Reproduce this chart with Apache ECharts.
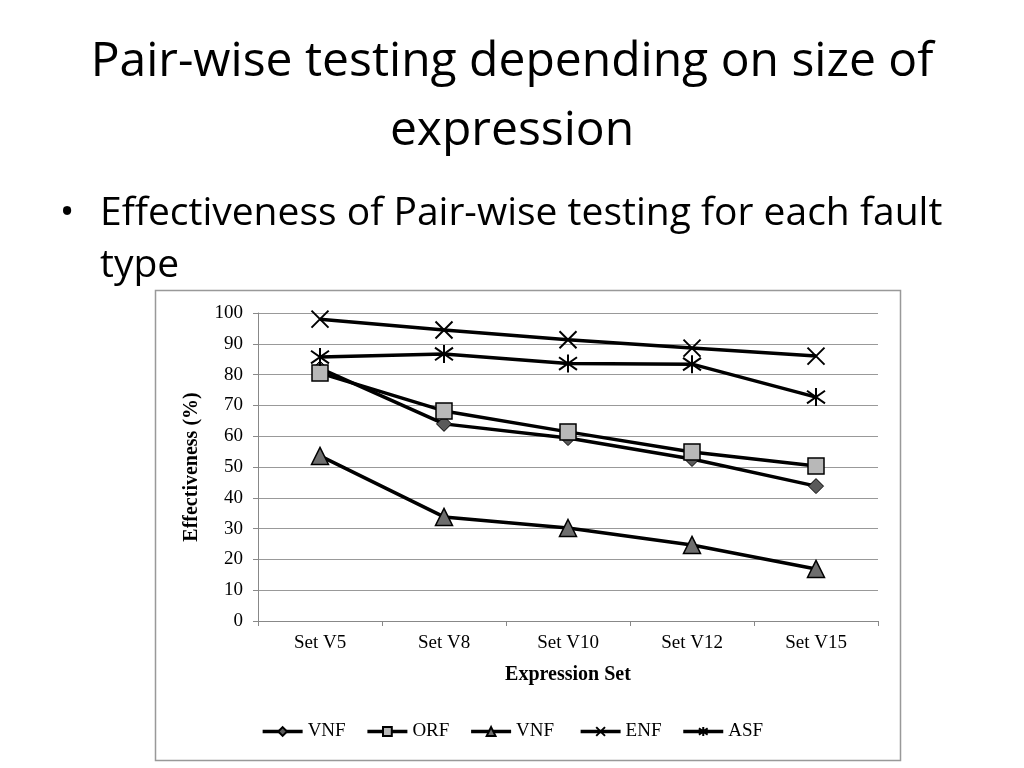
<!DOCTYPE html>
<html><head><meta charset="utf-8">
<script src="https://cdn.jsdelivr.net/npm/echarts@6/dist/echarts.min.js"></script>
<style>html,body{margin:0;padding:0;background:#fff}#c{width:1024px;height:768px}</style>
</head><body><div id="c"></div>
<script>
const categories = ['Set V5','Set V8','Set V10','Set V12','Set V15'];
const yTicks = [0,10,20,30,40,50,60,70,80,90,100];
const seriesNames = ['VNF','ORF','VNF ','ENF','ASF'];
const vnfDiamond = [82, 64, 59.4, 52.6, 43.8];
const orf = [80.5, 68.2, 61.4, 54.9, 50.3];
const vnfTriangle = [53.6, 33.8, 30.2, 24.7, 16.9];
const enf = [98, 94.5, 91.3, 88.6, 86];
const asf = [85.7, 86.7, 83.6, 83.4, 72.7];

const chart = echarts.init(document.getElementById('c'));
const serif = 'Liberation Serif';
const xPath = 'path://M0,0L10,10M10,0L0,10';
const starPath = 'path://M5,0L5,10M0.7,1.5L9.3,8.5M9.3,1.5L0.7,8.5';
function mk(name, data, symbol, size, fill, bw){
  return {name, type:'line', data, symbol, symbolSize:size,
    lineStyle:{color:'#000', width:3.5},
    itemStyle:{color:fill, borderColor:'#000', borderWidth:bw},
    emphasis:{disabled:true}, animation:false};
}
const titleFont = '48px "Open Sans"';
const bulletFont = '39px "Open Sans"';
chart.setOption({
  animation:false,
  graphic:[
    {type:'text', x:512, y:62, style:{text:'Pair-wise testing depending on size of', font:titleFont, fill:'#000', align:'center', verticalAlign:'middle'}},
    {type:'text', x:512, y:131, style:{text:'expression', font:titleFont, fill:'#000', align:'center', verticalAlign:'middle'}},
    {type:'text', x:67, y:214, style:{text:'•', font:bulletFont, fill:'#000', align:'center', verticalAlign:'middle'}},
    {type:'text', x:100, y:214, style:{text:'Effectiveness of Pair-wise testing for each fault', font:bulletFont, fill:'#000', verticalAlign:'middle'}},
    {type:'text', x:100, y:266, style:{text:'type', font:bulletFont, fill:'#000', verticalAlign:'middle'}},
    {type:'rect', shape:{x:155.5, y:290.5, width:745, height:470}, style:{fill:'none', stroke:'#999', lineWidth:1.5}, z:-1}
  ],
  grid:{left:258, right:146, top:313, bottom:147},
  legend:{
    data:seriesNames, top:717, left:'center', itemWidth:40, itemHeight:11, itemGap:20,
    textStyle:{fontFamily:serif, fontSize:19, color:'#000'},
    lineStyle:{width:3.5, color:'#000'},
    selectedMode:false
  },
  xAxis:{type:'category', data:categories, boundaryGap:true,
    name:'Expression Set', nameLocation:'middle', nameGap:44,
    nameTextStyle:{fontFamily:serif, fontSize:20, fontWeight:'bold', color:'#000'},
    axisLine:{lineStyle:{color:'#888', width:1}},
    axisTick:{show:true, length:5, lineStyle:{color:'#888'}},
    axisLabel:{fontFamily:serif, fontSize:19, color:'#000', margin:13}
  },
  yAxis:{type:'value', min:0, max:100, interval:10,
    name:'Effectiveness (%)', nameLocation:'middle', nameGap:56,
    nameTextStyle:{fontFamily:serif, fontSize:20, fontWeight:'bold', color:'#000'},
    axisLine:{show:true, lineStyle:{color:'#888', width:1}},
    axisTick:{show:true, length:5, lineStyle:{color:'#888'}},
    splitLine:{lineStyle:{color:'#999', width:1}},
    axisLabel:{fontFamily:serif, fontSize:19, color:'#000', margin:15,
      formatter:v => yTicks.includes(v) ? String(v) : ''}
  },
  series:[
    mk(seriesNames[0], vnfDiamond, 'diamond', 15, '#5a5a5a', 1),
    mk(seriesNames[1], orf, 'rect', 16, '#b8b8b8', 1.5),
    mk(seriesNames[2], vnfTriangle, 'triangle', 17, '#6e6e6e', 1.5),
    mk(seriesNames[3], enf, xPath, 17, '#000', 2),
    mk(seriesNames[4], asf, starPath, 18, '#000', 2)
  ]
});
</script></body></html>
